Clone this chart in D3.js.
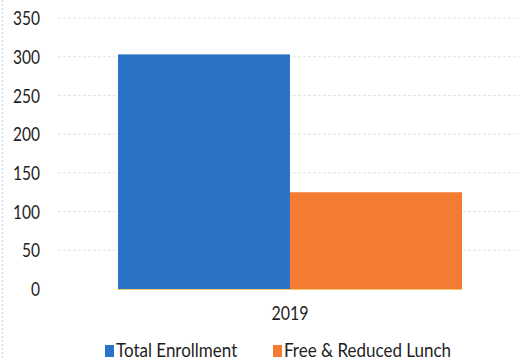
<!DOCTYPE html>
<html>
<head>
<meta charset="utf-8">
<script src="https://cdn.jsdelivr.net/npm/d3@7"></script>
<style>
  html, body { margin: 0; padding: 0; background: #fff; }
  svg { display: block; }
  text { font-family: Lato, "Open Sans", sans-serif; fill: #1e1e1e; }
</style>
</head>
<body>
<svg id="chart" width="519" height="360"></svg>
<script>
// Enrollment data
const categories = ["2019"];
const seriesNames = ["Total Enrollment", "Free & Reduced Lunch"];
const totalEnrollment = [303];
const freeReducedLunch = [125];
const yTicks = [0, 50, 100, 150, 200, 250, 300, 350];
const seriesColors = ["#2b73c6", "#f47c32"];

const svg = d3.select("#chart");
const W = 519, H = 360;
const plot = { left: 58, right: 522, top: 18, bottom: 289 };
const stretch = 1.18; // tall, narrow lettering

// faint dotted frame line on the left edge
svg.append("line")
  .attr("x1", 2.5).attr("x2", 2.5).attr("y1", 0).attr("y2", H)
  .attr("stroke", "#d3e3f3").attr("stroke-width", 1.5)
  .attr("stroke-dasharray", "2,2");

const y = d3.scaleLinear().domain([0, 350]).range([plot.bottom, plot.top]);
const x0 = d3.scaleBand().domain(categories)
  .range([plot.left, plot.right]).paddingInner(0).paddingOuter(0.1744);
const x1 = d3.scaleBand().domain(seriesNames).range([0, x0.bandwidth()]).padding(0);

// gridlines
svg.append("g").selectAll("line")
  .data(yTicks.filter(d => d > 0))
  .join("line")
  .attr("x1", plot.left).attr("x2", W)
  .attr("y1", d => y(d)).attr("y2", d => y(d))
  .attr("stroke", "#e2e2e2").attr("stroke-width", 1)
  .attr("stroke-dasharray", "3,2");

// y axis labels
const yAxis = d3.axisLeft(y).tickValues(yTicks).tickSize(0).tickPadding(0);
const gy = svg.append("g").attr("transform", "translate(40,0)").call(yAxis);
gy.select(".domain").remove();
gy.selectAll("text")
  .style("font-family", "Lato, 'Open Sans', sans-serif")
  .style("font-size", "15.5px").attr("fill", "#1e1e1e")
  .attr("dy", "0.36em")
  .attr("transform", `scale(1,${stretch})`);

// bars
const rows = categories.map((c, i) => ({
  cat: c,
  values: [
    { name: seriesNames[0], value: totalEnrollment[i] },
    { name: seriesNames[1], value: freeReducedLunch[i] }
  ]
}));
const color = d3.scaleOrdinal().domain(seriesNames).range(seriesColors);

svg.append("g").selectAll("g")
  .data(rows).join("g")
  .attr("transform", d => `translate(${x0(d.cat)},0)`)
  .selectAll("rect")
  .data(d => d.values).join("rect")
  .attr("x", d => x1(d.name))
  .attr("width", x1.bandwidth())
  .attr("y", d => y(d.value))
  .attr("height", d => y(0) - y(d.value))
  .attr("fill", d => color(d.name));

// baseline under the bars
svg.append("line")
  .attr("x1", x0(categories[0])).attr("x2", x0(categories[0]) + x0.bandwidth())
  .attr("y1", y(0) + 0.5).attr("y2", y(0) + 0.5)
  .attr("stroke", "#ecc86a").attr("stroke-width", 1);

// x axis label
const xAxis = d3.axisBottom(x0).tickSize(0).tickPadding(0);
const gx = svg.append("g").attr("transform", `translate(0,${plot.bottom + 24})`).call(xAxis);
gx.select(".domain").remove();
gx.selectAll("text")
  .style("font-family", "Lato, 'Open Sans', sans-serif")
  .style("font-size", "16px").attr("fill", "#1e1e1e")
  .attr("y", 0).attr("dy", "0.36em")
  .attr("transform", `scale(1,${stretch})`);

// legend
const legendItems = [
  { name: seriesNames[0], x: 105 },
  { name: seriesNames[1], x: 273 }
];
const lg = svg.append("g").selectAll("g").data(legendItems).join("g")
  .attr("transform", d => `translate(${d.x},357)`);
lg.append("rect")
  .attr("width", 9).attr("height", 12).attr("y", -12)
  .attr("fill", d => color(d.name));
lg.append("text")
  .attr("x", 11).attr("y", 0)
  .attr("transform", `scale(1,${stretch})`)
  .style("font-size", "17px")
  .text(d => d.name);
</script>
</body>
</html>
